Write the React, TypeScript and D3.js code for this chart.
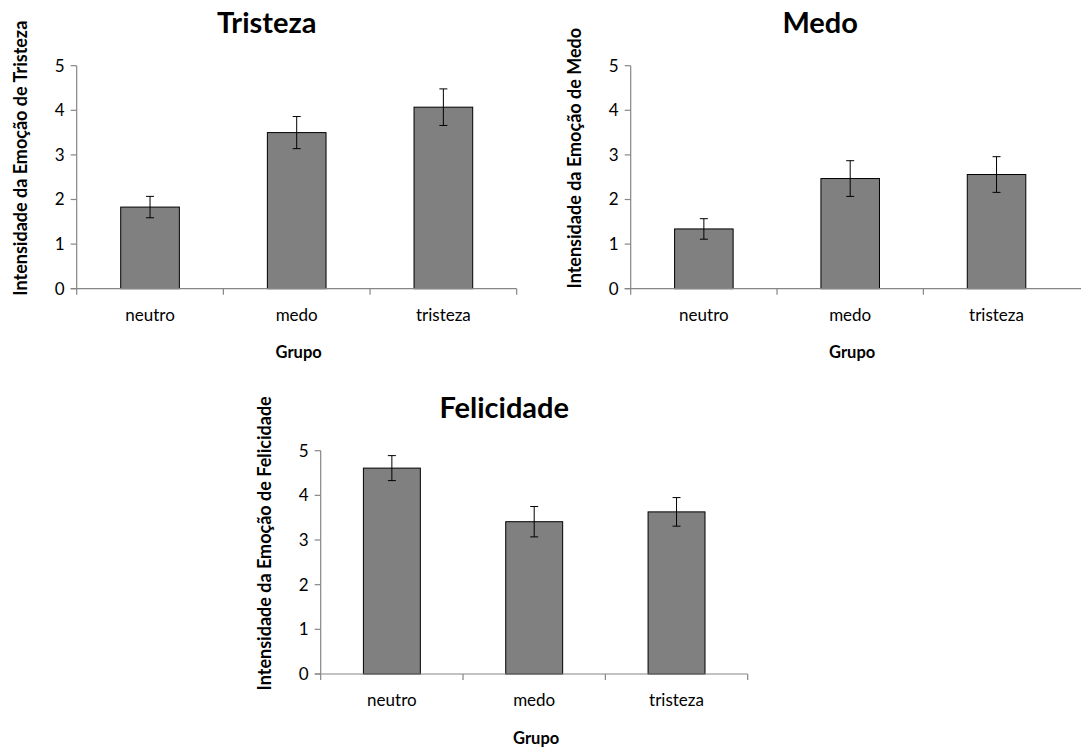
import { useEffect, useRef } from 'react';
import * as d3 from 'd3';

const GROUPS = ['neutro', 'medo', 'tristeza'];
const Y_TICKS = [0, 1, 2, 3, 4, 5];

const TRISTEZA_MEANS = [1.83, 3.5, 4.07];
const TRISTEZA_ERR = [0.24, 0.36, 0.41];
const MEDO_MEANS = [1.34, 2.47, 2.56];
const MEDO_ERR = [0.23, 0.4, 0.4];
const FELICIDADE_MEANS = [4.61, 3.41, 3.63];
const FELICIDADE_ERR = [0.28, 0.34, 0.32];

const FONT = 'Lato, "Open Sans", sans-serif';
const BAR_FILL = '#808080';
const AXIS_COLOR = '#868686';

interface PanelSpec {
  title: string;
  yLabel: string;
  means: number[];
  errs: number[];
  left: number;
  right: number;
  lineEnd?: number;
  top: number;
  bottom: number;
  showLastTick: boolean;
}

const PANELS: PanelSpec[] = [
  {
    title: 'Tristeza', yLabel: 'Intensidade da Emoção de Tristeza',
    means: TRISTEZA_MEANS, errs: TRISTEZA_ERR,
    left: 76.7, right: 516.7, top: 65.7, bottom: 288.7, showLastTick: true,
  },
  {
    title: 'Medo', yLabel: 'Intensidade da Emoção de Medo',
    means: MEDO_MEANS, errs: MEDO_ERR,
    left: 630.7, right: 1069.7, lineEnd: 1081, top: 65.7, bottom: 288.7, showLastTick: false,
  },
  {
    title: 'Felicidade', yLabel: 'Intensidade da Emoção de Felicidade',
    means: FELICIDADE_MEANS, errs: FELICIDADE_ERR,
    left: 320.7, right: 747.7, top: 450.7, bottom: 674, showLastTick: true,
  },
];

function drawPanel(g: d3.Selection<SVGGElement, unknown, null, undefined>, p: PanelSpec) {
  const x = d3.scaleBand<string>().domain(GROUPS).range([p.left, p.right]).padding(0);
  const y = d3.scaleLinear().domain([0, 5]).range([p.bottom, p.top]);
  const barW = x.bandwidth() * 0.4;
  const cx = (p.left + p.right) / 2;
  const cy = (p.top + p.bottom) / 2;

  // y axis
  g.append('line')
    .attr('x1', p.left).attr('x2', p.left)
    .attr('y1', y(0)).attr('y2', y(5))
    .attr('stroke', AXIS_COLOR).attr('stroke-width', 1.2);
  g.selectAll('.ytick').data(Y_TICKS).join('line')
    .attr('x1', p.left - 6).attr('x2', p.left)
    .attr('y1', d => y(d)).attr('y2', d => y(d))
    .attr('stroke', AXIS_COLOR).attr('stroke-width', 1.2);
  g.selectAll('.ylab').data(Y_TICKS).join('text')
    .attr('x', p.left - 12).attr('y', d => y(d))
    .attr('dy', '0.35em')
    .attr('text-anchor', 'end')
    .attr('font-size', 17)
    .attr('fill', '#000')
    .text(d => d);

  // bars
  const bars = GROUPS.map((grp, i) => ({ grp, mean: p.means[i], err: p.errs[i] }));
  g.selectAll('.bar').data(bars).join('rect')
    .attr('x', d => x(d.grp)! + (x.bandwidth() - barW) / 2)
    .attr('y', d => y(d.mean))
    .attr('width', barW)
    .attr('height', d => y(0) - y(d.mean))
    .attr('fill', BAR_FILL)
    .attr('stroke', '#000')
    .attr('stroke-width', 1);

  // error bars
  const eb = g.selectAll('.eb').data(bars).join('g')
    .attr('transform', d => `translate(${x(d.grp)! + x.bandwidth() / 2},0)`);
  eb.append('line')
    .attr('y1', d => y(d.mean + d.err)).attr('y2', d => y(d.mean - d.err))
    .attr('stroke', '#000').attr('stroke-width', 1);
  eb.append('line')
    .attr('x1', -4).attr('x2', 4)
    .attr('y1', d => y(d.mean + d.err)).attr('y2', d => y(d.mean + d.err))
    .attr('stroke', '#000').attr('stroke-width', 1);
  eb.append('line')
    .attr('x1', -4).attr('x2', 4)
    .attr('y1', d => y(d.mean - d.err)).attr('y2', d => y(d.mean - d.err))
    .attr('stroke', '#000').attr('stroke-width', 1);

  // x axis
  g.append('line')
    .attr('x1', p.left - 6).attr('x2', p.lineEnd ?? p.right)
    .attr('y1', y(0)).attr('y2', y(0))
    .attr('stroke', AXIS_COLOR).attr('stroke-width', 1.2);
  const edges = [...GROUPS.map(grp => x(grp)!), p.right].filter((_, i) => p.showLastTick || i < GROUPS.length);
  g.selectAll('.xtick').data(edges).join('line')
    .attr('x1', d => d).attr('x2', d => d)
    .attr('y1', y(0)).attr('y2', y(0) + 6)
    .attr('stroke', AXIS_COLOR).attr('stroke-width', 1.2);
  g.selectAll('.xlab').data(GROUPS).join('text')
    .attr('x', d => x(d)! + x.bandwidth() / 2)
    .attr('y', y(0) + 26)
    .attr('dy', '0.35em')
    .attr('text-anchor', 'middle')
    .attr('font-size', 17)
    .text(d => d);

  // titles
  g.append('text')
    .attr('x', cx - 30).attr('y', p.top - 33)
    .attr('text-anchor', 'middle')
    .attr('font-size', 29).attr('font-weight', 700)
    .text(p.title);
  g.append('text')
    .attr('x', cx + 2).attr('y', y(0) + 64)
    .attr('dy', '0.35em')
    .attr('text-anchor', 'middle')
    .attr('font-size', 16.5).attr('font-weight', 700)
    .text('Grupo');
  g.append('text')
    .attr('transform', `translate(${p.left - 56},${cy - 19}) rotate(-90)`)
    .attr('dy', '0.35em')
    .attr('text-anchor', 'middle')
    .attr('font-size', 18).attr('font-weight', 700)
    .text(p.yLabel);
}

export default function App() {
  const svgRef = useRef<SVGSVGElement>(null);

  useEffect(() => {
    if (!svgRef.current) return;
    const svg = d3.select(svgRef.current);
    svg.selectAll('*').remove();
    svg.append('rect').attr('width', 1081).attr('height', 747).attr('fill', '#fff');
    PANELS.forEach(p => {
      const g = svg.append('g');
      drawPanel(g, p);
    });
  }, []);

  return (
    <svg
      ref={svgRef}
      width={1081}
      height={747}
      style={{ position: 'absolute', left: 0, top: 0, fontFamily: FONT }}
    />
  );
}
